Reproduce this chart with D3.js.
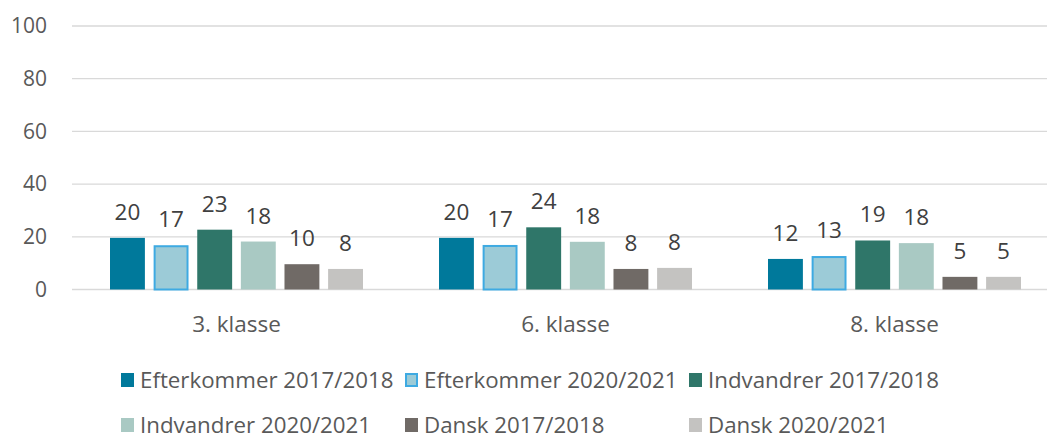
<!DOCTYPE html>
<html>
<head>
<meta charset="utf-8">
<script src="https://cdn.jsdelivr.net/npm/d3@7"></script>
<style>
  body { margin: 0; background: #fff; }
  svg { display: block; font-family: "Open Sans", sans-serif; }
</style>
</head>
<body>
<svg id="chart" width="1047" height="439"></svg>
<script>
const categories = ["3. klasse", "6. klasse", "8. klasse"];
const series = [
    "Efterkommer 2017/2018",
    "Efterkommer 2020/2021",
    "Indvandrer 2017/2018",
    "Indvandrer 2020/2021",
    "Dansk 2017/2018",
    "Dansk 2020/2021"
];
// one row per category, one value per series
const values = [
    [19.6, 16.8, 22.7, 18.2, 9.6, 7.8],
    [19.6, 16.9, 23.6, 18.1, 7.8, 8.2],
    [11.6, 12.7, 18.6, 17.6, 4.8, 4.8]
];
const yTicks = [0, 20, 40, 60, 80, 100];

const colors = ["#00799b", "#9ccbd7", "#2f7669", "#a9c9c3", "#706a66", "#c4c3c1"];
const strokes = [null, "#3eaae2", null, null, null, null];

const svg = d3.select("#chart");

const x = d3.scaleBand().domain(categories).range([72, 1059])
    .paddingInner(0.231).paddingOuter(0.1155);
const xs = d3.scaleBand().domain(series).range([0, x.bandwidth()])
    .paddingInner(0.2).paddingOuter(0);
const y = d3.scaleLinear().domain([0, 100]).range([289.5, 26]);

// gridlines
svg.append("g").attr("id", "grid")
    .selectAll("line").data(yTicks).join("line")
    .attr("x1", 72).attr("x2", 1047)
    .attr("y1", d => y(d)).attr("y2", d => y(d))
    .attr("stroke", "#d9d9d9").attr("stroke-width", 1.3);

// y axis labels
const yAxis = svg.append("g").attr("transform", "translate(47,0)")
    .call(d3.axisLeft(y).tickValues(yTicks).tickSize(0).tickPadding(0));
yAxis.select(".domain").remove();
yAxis.selectAll("text")
    .attr("font-family", "Open Sans").attr("font-size", 21).attr("fill", "#595959");

// x axis labels
const xAxis = svg.append("g").attr("transform", "translate(0,332)")
    .call(d3.axisBottom(x).tickSize(0).tickPadding(0));
xAxis.select(".domain").remove();
xAxis.selectAll("text")
    .attr("font-family", "Open Sans").attr("font-size", 22.5).attr("fill", "#595959")
    .attr("y", 0).attr("dy", 0);

// bars
const groups = svg.append("g").attr("id", "bars")
    .selectAll("g").data(values).join("g")
    .attr("transform", (d, i) => `translate(${x(categories[i])},0)`);

groups.selectAll("rect")
    .data(d => d.map((v, j) => ({ v, j })))
    .join("rect")
    .attr("x", d => xs(series[d.j]) + (strokes[d.j] ? 1 : 0))
    .attr("y", d => y(d.v) + (strokes[d.j] ? 1 : 0))
    .attr("width", d => xs.bandwidth() - (strokes[d.j] ? 2 : 0))
    .attr("height", d => y(0) - y(d.v) - (strokes[d.j] ? 1 : 0))
    .attr("fill", d => colors[d.j])
    .attr("stroke", d => strokes[d.j] || "none")
    .attr("stroke-width", 2);

groups.selectAll("text")
    .data(d => d.map((v, j) => ({ v, j })))
    .join("text")
    .attr("x", d => xs(series[d.j]) + xs.bandwidth() / 2)
    .attr("y", d => y(d.v) - 18)
    .attr("text-anchor", "middle")
    .attr("font-size", 22.5)
    .attr("fill", "#404040")
    .text(d => d3.format(".0f")(d.v));

// legend, three columns wrapping to two rows
const legend = svg.append("g").attr("id", "legend")
    .selectAll("g").data(series).join("g")
    .attr("transform", (d, i) => `translate(${121 + (i % 3) * 284},${380 + Math.floor(i / 3) * 45})`);

legend.append("rect")
    .attr("x", (d, i) => strokes[i] ? 1 : 0)
    .attr("y", (d, i) => -7 + (strokes[i] ? 1 : 0))
    .attr("width", (d, i) => strokes[i] ? 11 : 13)
    .attr("height", (d, i) => strokes[i] ? 12 : 14)
    .attr("fill", (d, i) => colors[i])
    .attr("stroke", (d, i) => strokes[i] || "none")
    .attr("stroke-width", 2);

legend.append("text")
    .attr("x", 19).attr("y", 0).attr("dy", "0.35em")
    .attr("font-size", 22.3).attr("fill", "#595959")
    .text(d => d);
</script>
</body>
</html>
